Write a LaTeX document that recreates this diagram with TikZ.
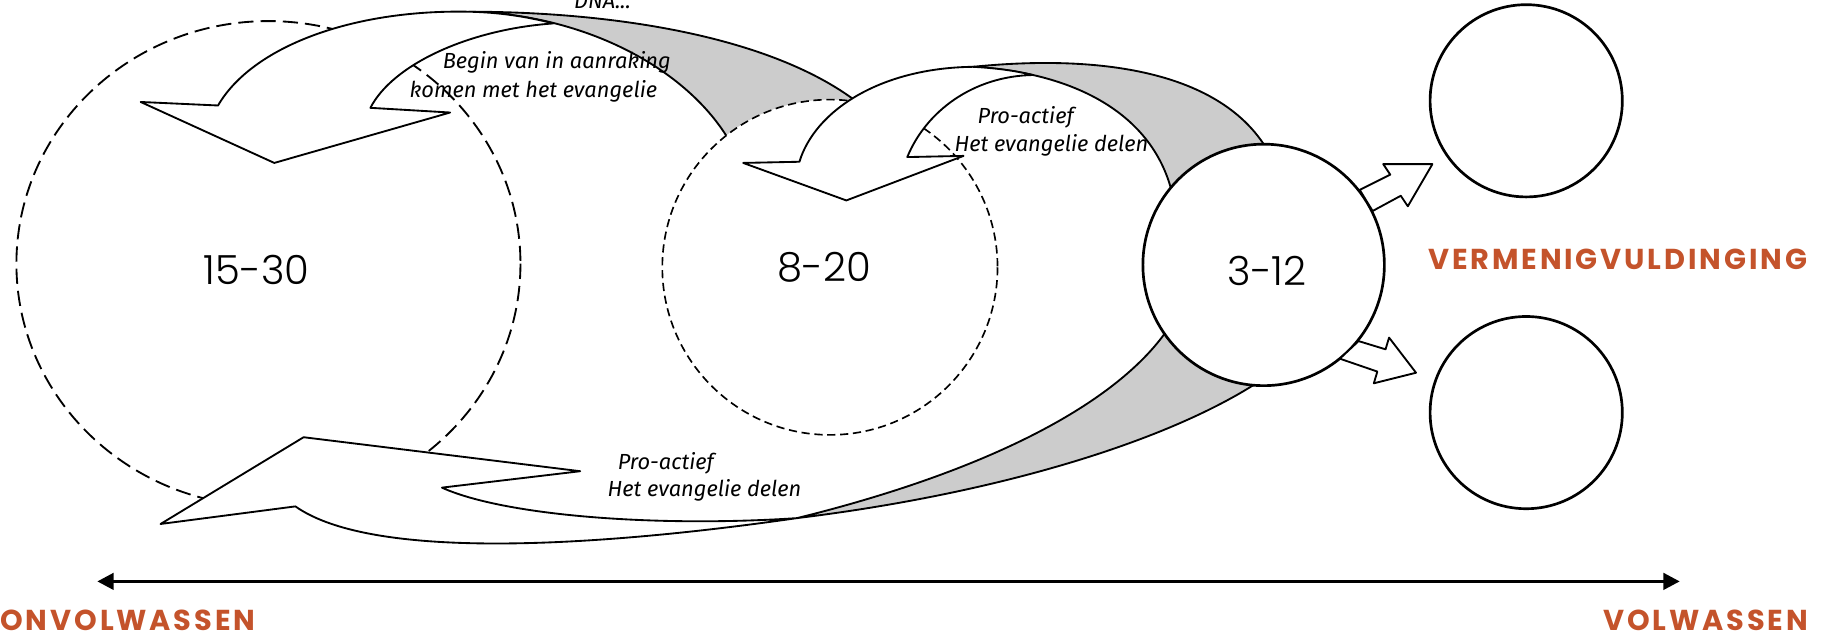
\documentclass[tikz,border=0pt]{standalone}
\usepackage{fontspec}
\setmainfont{Poppins}
\newfontfamily\agefont{Poppins Light}
\newfontfamily\tagfont{Poppins Bold}[LetterSpace=10]
\newfontfamily\notefont{Fira Sans}
\usetikzlibrary{arrows.meta}

\definecolor{rust}{HTML}{C4532B}

\begin{document}
\begin{tikzpicture}[x=0.02cm, y=-0.02cm, >={Triangle[length=0.28cm, width=0.28cm]},
  band/.style={draw, line width=0.9pt, fill=white, line join=round},
  twist/.style={draw, line width=0.9pt, fill=black!20, line join=round},
  agetext/.style={font=\agefont\fontsize{19.5}{20}\selectfont},
  note/.style={font=\notefont\itshape\fontsize{10.6}{12}\selectfont, inner sep=0pt},
  tag/.style={font=\tagfont\fontsize{14}{15}\selectfont, text=rust, inner sep=0pt}]

  \useasboundingbox (0,0) rectangle (1568,543);

  % --------- knobs you can tweak ----------
  \def\RB{143}   % middle group
  \def\RC{103}   % core group
  \def\RN{82}    % new groups
  % ----------------------------------------

  % ============== Outer group (15-30) =================
  \draw[line width=0.9pt, dash pattern=on 0.26cm off 0.12cm] (229,225) ellipse (215 and 207);

  % curved arrow over the outer group
  \draw[twist] (400,10) .. controls (520,10) and (660,30) .. (735,90)
    -- (625,125) .. controls (590,60) and (500,12) .. (400,10) -- cycle;
  \draw[band] (316,92) -- (384,96) -- (234,139) -- (120,87) -- (186,90)
    .. controls (215,40) and (300,8) .. (400,10)
    .. controls (425,10.5) and (449,14) .. (472,20)
    .. controls (400,25) and (335,55) .. (316,92) -- cycle;

  % ============== Middle group (8-20) =================
  \draw[line width=0.8pt, fill=white, dash pattern=on 0.14cm off 0.08cm] (708,228) circle (\RB);

  % curved arrow over the middle group
  \draw[twist] (830,57) .. controls (950,45) and (1050,65) .. (1085,135)
    -- (1002,175) .. controls (990,100) and (920,62) .. (830,57) -- cycle;
  \draw[band] (774,134) -- (822,133) -- (722,171) -- (634,139) -- (682,138)
    .. controls (695,95) and (750,58) .. (830,57)
    .. controls (848,58) and (865,60) .. (881,64)
    .. controls (830,65) and (790,95) .. (774,134) -- cycle;

  % long arrow back underneath
  \draw[twist] (680,442) .. controls (850,400) and (960,340) .. (1000,275)
    -- (1085,318) .. controls (1010,372) and (860,420) .. (680,442) -- cycle;
  \draw[band] (377,416) -- (495,402) -- (259,373) -- (137,447) -- (252,432)
    .. controls (320,480) and (520,465) .. (680,442)
    .. controls (560,450) and (430,440) .. (377,416) -- cycle;

  % ============== Core group (3-12) =================
  \node[circle, draw, line width=1.3pt, fill=white, minimum size=2*\RC*0.02cm] (core) at (1078,226) {};

  % multiplying arrows
  \draw[band] (1160,162) -- (1186,149) -- (1180,140) -- (1222,140)
    -- (1201,176) -- (1195,167) -- (1171,180) -- cycle;
  \draw[band] (1159,291) -- (1182,298) -- (1185,288) -- (1208,318)
    -- (1172,327) -- (1175,317) -- (1143,306) -- cycle;

  % new groups
  \node[circle, draw, line width=1.3pt, minimum size=2*\RN*0.02cm] (newtop) at (1302,86) {};
  \node[circle, draw, line width=1.3pt, minimum size=2*\RN*0.02cm] (newbot) at (1302,352) {};

  % Labels
  \node[agetext] (ageA) at (219,230) {15-30};
  \node[agetext] (ageB) at (703,228) {8-20};
  \node[agetext] (ageC) at (1081,231) {3-12};

  \node[note, anchor=base] (dna) at (514,7) {DNA...};
  \node[note] (beginA) at (475,53) {Begin van in aanraking};
  \node[note] (beginB) at (455,78) {komen met het evangelie};
  \node[note] (proB) at (875,100) {Pro-actief};
  \node[note] (shareB) at (897,124) {Het evangelie delen};
  \node[note] (proC) at (568,395) {Pro-actief};
  \node[note] (shareC) at (601,418) {Het evangelie delen};

  \node[tag] (multiply) at (1380,221) {VERMENIGVULDINGING};

  % maturity axis
  \coordinate (young) at (83,496);
  \coordinate (mature) at (1433,496);
  \draw[<->, line width=1.6pt] (young) -- (mature);
  \node[tag, anchor=base west] (immature) at (0,538) {ONVOLWASSEN};
  \node[tag, anchor=base] (grown) at (1455,538) {VOLWASSEN};

\end{tikzpicture}
\end{document}
